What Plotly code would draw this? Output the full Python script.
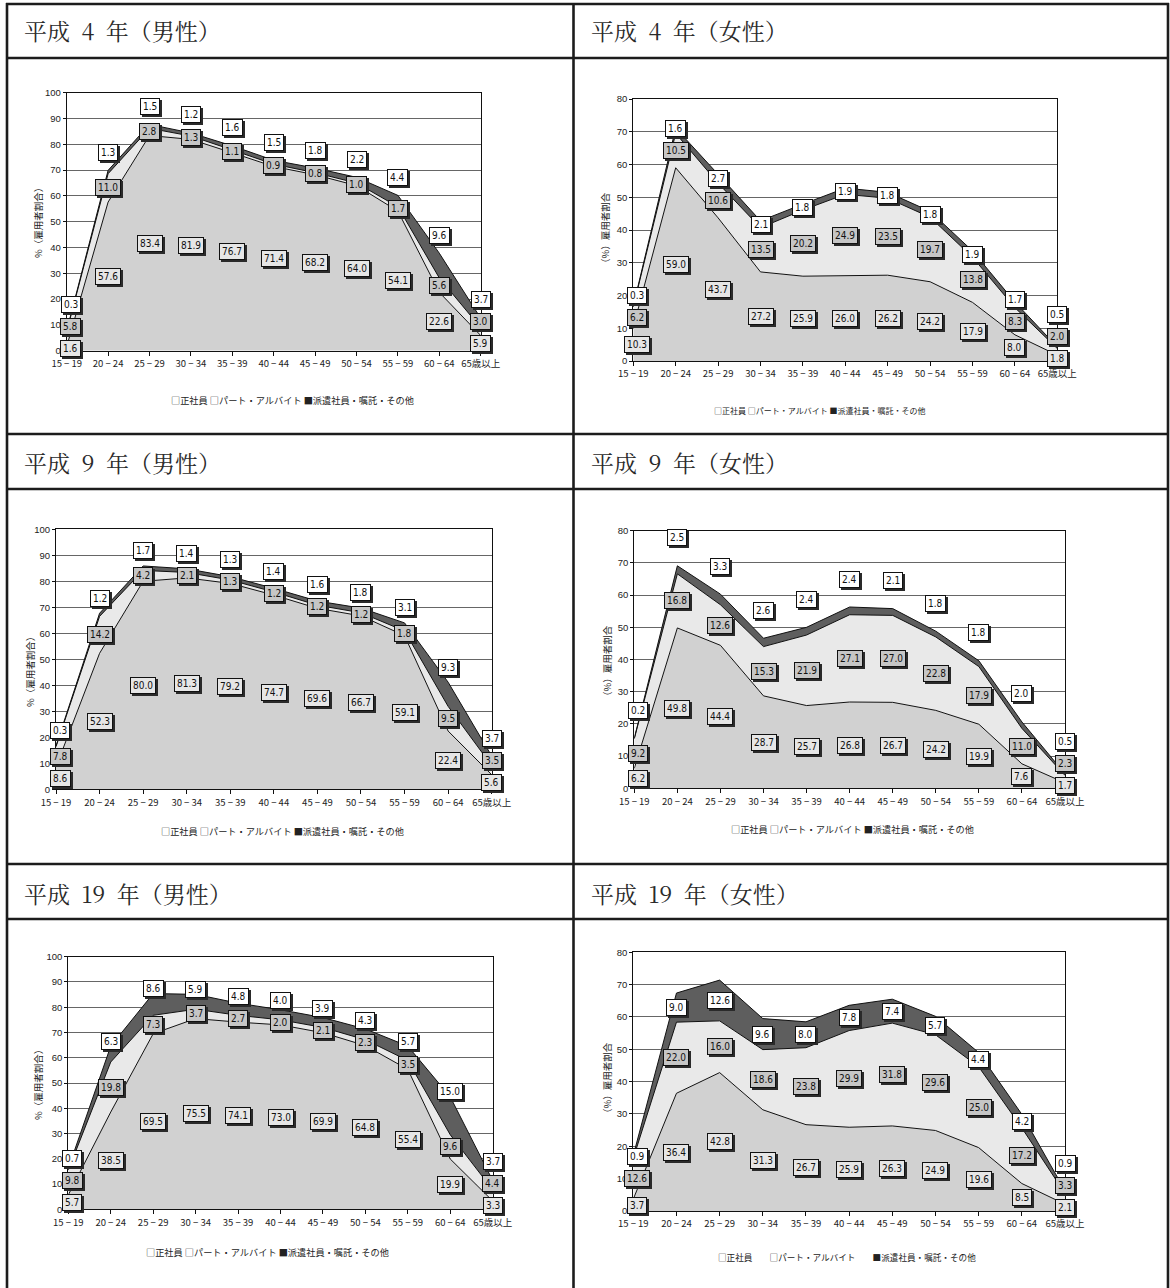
import plotly.graph_objects as go

# ---------------- data ----------------
categories = ["15 − 19", "20 − 24", "25 − 29", "30 − 34", "35 − 39", "40 − 44",
              "45 − 49", "50 − 54", "55 − 59", "60 − 64", "65歳以上"]

series_names = ["正社員", "パート・アルバイト", "派遣社員・嘱託・その他"]

h4_male_regular = [1.6, 57.6, 83.4, 81.9, 76.7, 71.4, 68.2, 64.0, 54.1, 22.6, 5.9]
h4_male_part = [5.8, 11.0, 2.8, 1.3, 1.1, 0.9, 0.8, 1.0, 1.7, 5.6, 3.0]
h4_male_dispatch = [0.3, 1.3, 1.5, 1.2, 1.6, 1.5, 1.8, 2.2, 4.4, 9.6, 3.7]

h4_female_regular = [10.3, 59.0, 43.7, 27.2, 25.9, 26.0, 26.2, 24.2, 17.9, 8.0, 1.8]
h4_female_part = [6.2, 10.5, 10.6, 13.5, 20.2, 24.9, 23.5, 19.7, 13.8, 8.3, 2.0]
h4_female_dispatch = [0.3, 1.6, 2.7, 2.1, 1.8, 1.9, 1.8, 1.8, 1.9, 1.7, 0.5]

h9_male_regular = [8.6, 52.3, 80.0, 81.3, 79.2, 74.7, 69.6, 66.7, 59.1, 22.4, 5.6]
h9_male_part = [7.8, 14.2, 4.2, 2.1, 1.3, 1.2, 1.2, 1.2, 1.8, 9.5, 3.5]
h9_male_dispatch = [0.3, 1.2, 1.7, 1.4, 1.3, 1.4, 1.6, 1.8, 3.1, 9.3, 3.7]

h9_female_regular = [6.2, 49.8, 44.4, 28.7, 25.7, 26.8, 26.7, 24.2, 19.9, 7.6, 1.7]
h9_female_part = [9.2, 16.8, 12.6, 15.3, 21.9, 27.1, 27.0, 22.8, 17.9, 11.0, 2.3]
h9_female_dispatch = [0.2, 2.5, 3.3, 2.6, 2.4, 2.4, 2.1, 1.8, 1.8, 2.0, 0.5]

h19_male_regular = [5.7, 38.5, 69.5, 75.5, 74.1, 73.0, 69.9, 64.8, 55.4, 19.9, 3.3]
h19_male_part = [9.8, 19.8, 7.3, 3.7, 2.7, 2.0, 2.1, 2.3, 3.5, 9.6, 4.4]
h19_male_dispatch = [0.7, 6.3, 8.6, 5.9, 4.8, 4.0, 3.9, 4.3, 5.7, 15.0, 3.7]

h19_female_regular = [3.7, 36.4, 42.8, 31.3, 26.7, 25.9, 26.3, 24.9, 19.6, 8.5, 2.1]
h19_female_part = [12.6, 22.0, 16.0, 18.6, 23.8, 29.9, 31.8, 29.6, 25.0, 17.2, 3.3]
h19_female_dispatch = [0.9, 9.0, 12.6, 9.6, 8.0, 7.8, 7.4, 5.7, 4.4, 4.2, 0.9]

titles = ["平成\u20024\u2002年（男性）", "平成\u20024\u2002年（女性）",
          "平成\u20029\u2002年（男性）", "平成\u20029\u2002年（女性）",
          "平成\u200219\u2002年（男性）", "平成\u200219\u2002年（女性）"]
ytitle_male = "%（雇用者割合）"
ytitle_female = "（%）雇用者割合"

# ---------------- layout / style ----------------
W, H = 1170, 1288

def fx(px):
    return px / W

def fy(py):
    return 1 - py / H

panels = [
    dict(reg=h4_male_regular, part=h4_male_part, disp=h4_male_dispatch, ymax=100,
         box=(66.7, 480.7, 92.7, 350.7), ytitle=ytitle_male, yt=(38, 221),
         leg=(292, 400, 9.2, " "), disp_off=18),
    dict(reg=h4_female_regular, part=h4_female_part, disp=h4_female_dispatch, ymax=80,
         box=(633.3, 1057.3, 99, 361), ytitle=ytitle_female, yt=(605, 230),
         leg=(820, 410, 8, " "), disp_off=None),
    dict(reg=h9_male_regular, part=h9_male_part, disp=h9_male_dispatch, ymax=100,
         box=(56, 491.7, 529.3, 789.3), ytitle=ytitle_male, yt=(30, 670),
         leg=(282, 831, 9.2, " "), disp_off=15),
    dict(reg=h9_female_regular, part=h9_female_part, disp=h9_female_dispatch, ymax=80,
         box=(634.3, 1065, 530.7, 788.3), ytitle=ytitle_female, yt=(607, 663),
         leg=(852, 829, 9.2, " "), disp_off=28),
    dict(reg=h19_male_regular, part=h19_male_part, disp=h19_male_dispatch, ymax=100,
         box=(68.3, 492.7, 956.7, 1209.3), ytitle=ytitle_male, yt=(38, 1083),
         leg=(267, 1252, 9.2, " "), disp_off=5),
    dict(reg=h19_female_regular, part=h19_female_part, disp=h19_female_dispatch, ymax=80,
         box=(633.3, 1065, 952.3, 1211), ytitle=ytitle_female, yt=(607, 1080),
         leg=(847, 1257, 8.6, "\u3000\u3000"), disp_off=None),
]

fill_colors = ["#d1d1d1", "#e9e9e9", "#5e5e5e"]
label_fills = ["#e6e6e6", "#c6c6c6", "#ffffff"]
label_font = "Liberation Sans Narrow, Arial Narrow, DejaVu Sans Condensed, Arial, sans-serif"
jp_font = "Noto Sans CJK JP, sans-serif"
header_font = "Noto Serif CJK JP, Noto Sans CJK JP, serif"

fig = go.Figure()
annotations = []
shapes = []
layout_axes = {}

GAP_PX = 22
FIRST_COL_SHIFT = 4

for i, p in enumerate(panels, start=1):
    xa = "x" if i == 1 else f"x{i}"
    ya = "y" if i == 1 else f"y{i}"
    xkey = "xaxis" if i == 1 else f"xaxis{i}"
    ykey = "yaxis" if i == 1 else f"yaxis{i}"
    x0, x1, ytop, ybot = p["box"]

    for k, vals in enumerate([p["reg"], p["part"], p["disp"]]):
        fig.add_trace(go.Scatter(
            x=categories, y=vals, xaxis=xa, yaxis=ya,
            stackgroup=f"g{i}", mode="lines",
            line=dict(color="#111111", width=1),
            fillcolor=fill_colors[k], name=series_names[k],
            showlegend=False, hoverinfo="skip",
        ))

    layout_axes[xkey] = dict(
        domain=[fx(x0), fx(x1)], anchor=ya, type="category", range=[0, 10],
        showline=True, mirror=True, linecolor="#111111", linewidth=1,
        ticks="outside", ticklen=4, tickcolor="#111111", showgrid=False,
        tickfont=dict(family=jp_font, size=9.5, color="#222222"),
        fixedrange=True, automargin=False,
    )
    layout_axes[ykey] = dict(
        domain=[fy(ybot), fy(ytop)], anchor=xa, range=[0, p["ymax"]], dtick=10,
        showline=True, mirror=True, linecolor="#111111", linewidth=1,
        ticks="outside", ticklen=3, tickcolor="#111111",
        showgrid=True, gridcolor="#666666", gridwidth=1,
        tickfont=dict(family="Liberation Sans, Arial, sans-serif", size=9.5, color="#222222"),
        zeroline=False, fixedrange=True, automargin=False,
    )

    # label placement (data units), simple upward collision avoidance
    ppu = (ybot - ytop) / p["ymax"]
    gap = GAP_PX / ppu
    for j in range(len(categories)):
        r, pt, d = p["reg"][j], p["part"][j], p["disp"][j]
        y_r = r / 2
        y_p = max(r + pt / 2, y_r + gap)
        top = r + pt + d
        if p["disp_off"] is None:
            y_d0 = r + pt + d / 2
        else:
            y_d0 = top + p["disp_off"] / ppu
        y_d = max(y_d0, y_p + gap)
        xs = FIRST_COL_SHIFT if j == 0 else 0
        for k, (v, yy) in enumerate([(r, y_r), (pt, y_p), (d, y_d)]):
            txt = f"{v:.1f}"
            common = dict(x=categories[j], y=yy, xref=xa, yref=ya, text=txt,
                          showarrow=False, borderwidth=1, borderpad=2,
                          xanchor="center", yanchor="middle")
            annotations.append(dict(common, bgcolor="#2a2a2a", bordercolor="#2a2a2a",
                                    font=dict(family=label_font, size=10, color="rgba(0,0,0,0)"),
                                    xshift=xs + 2, yshift=-2))
            annotations.append(dict(common, bgcolor=label_fills[k], bordercolor="#111111",
                                    font=dict(family=label_font, size=10, color="#111111"),
                                    xshift=xs))

    # y-axis title
    annotations.append(dict(x=fx(p["yt"][0]), y=fy(p["yt"][1]), xref="paper", yref="paper",
                            text=p["ytitle"], textangle=-90, showarrow=False,
                            font=dict(family=jp_font, size=9.5, color="#222222"),
                            xanchor="center", yanchor="middle"))
    # legend (as text)
    lx, ly, lsize, sep = p["leg"]
    leg_text = sep.join([f"□{series_names[0]}", f"□{series_names[1]}", f"■{series_names[2]}"])
    annotations.append(dict(x=fx(lx), y=fy(ly), xref="paper", yref="paper",
                            text=leg_text, showarrow=False,
                            font=dict(family=jp_font, size=lsize, color="#222222"),
                            xanchor="center", yanchor="middle"))

# headers
header_pos = [(22, 31), (589, 31), (22, 462), (589, 462), (22, 893), (589, 893)]
for t, (hx, hy) in zip(titles, header_pos):
    annotations.append(dict(x=fx(hx), y=fy(hy), xref="paper", yref="paper", text=t,
                            showarrow=False, xanchor="left", yanchor="middle",
                            font=dict(family=header_font, size=23, color="#2a2a2a")))

# table borders
LW = 2.6
LC = "#1c1c1c"
for yy in [4, 58, 434, 489, 864, 919]:
    shapes.append(dict(type="line", xref="paper", yref="paper",
                       x0=fx(6), x1=fx(1169), y0=fy(yy), y1=fy(yy),
                       line=dict(color=LC, width=LW)))
for xx in [7, 573.5, 1168]:
    shapes.append(dict(type="line", xref="paper", yref="paper",
                       x0=fx(xx), x1=fx(xx), y0=fy(3), y1=0,
                       line=dict(color=LC, width=LW)))

fig.update_layout(
    width=W, height=H,
    margin=dict(l=0, r=0, t=0, b=0, pad=0, autoexpand=False),
    paper_bgcolor="white", plot_bgcolor="white",
    showlegend=False, annotations=annotations, shapes=shapes,
    **layout_axes,
)

fig.write_html("out.html", config={"displayModeBar": False},
               post_script="document.body.style.margin='0';document.body.style.overflow='hidden';")
